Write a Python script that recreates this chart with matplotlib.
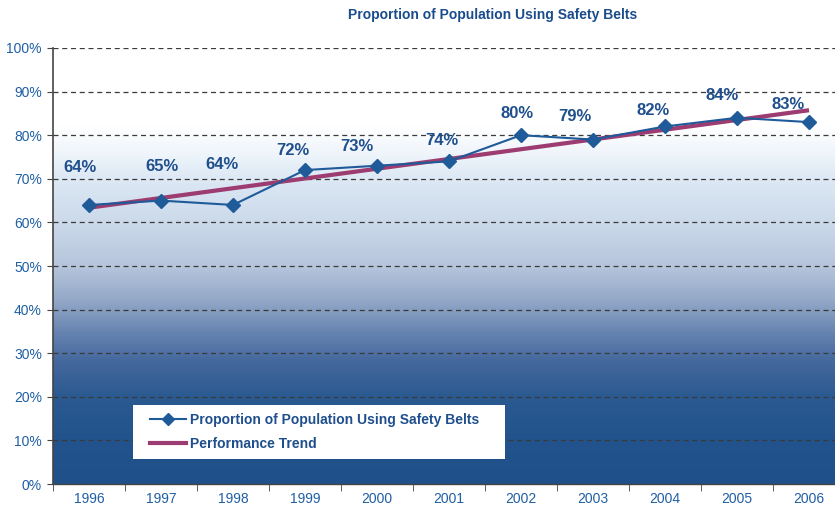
import numpy as np
import matplotlib
matplotlib.use("Agg")
import matplotlib.pyplot as plt
from matplotlib.colors import LinearSegmentedColormap
from matplotlib.lines import Line2D
from matplotlib.patches import Rectangle

plt.rcParams['font.family'] = ['Liberation Sans', 'DejaVu Sans']

# ---- data ----
years = ['1996', '1997', '1998', '1999', '2000', '2001', '2002', '2003', '2004', '2005', '2006']
usage = [64, 65, 64, 72, 73, 74, 80, 79, 82, 84, 83]
y_ticks = [0, 10, 20, 30, 40, 50, 60, 70, 80, 90, 100]
title = 'Proportion of Population Using Safety Belts'
series_name = 'Proportion of Population Using Safety Belts'
trend_name = 'Performance Trend'

# label placement offsets (pixels) - styling only
label_dx = [-9, 1, -11, -12, -20, -7, -4, -18, -12, -15, -21]
label_dy = [37, 34, 40, 20, 19, 21, 22, 23, 16, 22, 18]

W, H = 835, 514
fig = plt.figure(figsize=(W / 100, H / 100), dpi=100)
fig.patch.set_facecolor('white')
left, right, top, bottom = 53, 845, 48, 484
ax = fig.add_axes([left / W, 1 - bottom / H, (right - left) / W, (bottom - top) / H])

x = np.arange(len(years))
ax.set_xlim(-0.5, len(years) - 0.5)
ax.set_ylim(0, 100)

# gradient background
stops = [(0.00, '#1f5089'), (0.10, '#23538c'), (0.20, '#2b5a91'), (0.28, '#44689d'),
         (0.35, '#6885b1'), (0.42, '#93a8c8'), (0.50, '#b6c5dc'), (0.60, '#cbd9ea'),
         (0.70, '#dce8f4'), (0.75, '#ecf3fa'), (0.82, '#ffffff'), (1.00, '#ffffff')]
cmap = LinearSegmentedColormap.from_list('bg', stops)
grad = np.linspace(0, 1, 400).reshape(-1, 1)
ax.imshow(grad, cmap=cmap, origin='lower', aspect='auto',
          extent=[-0.5, len(years) - 0.5, 0, 100], zorder=0)

# grid
for yv in y_ticks[1:]:
    ax.axhline(yv, color='#3a3a3a', lw=0.9, ls=(0, (4, 3)), zorder=1)

# trend line
coef = np.polyfit(x, usage, 1)
trend = np.polyval(coef, x)
ax.plot(x, trend, color='#9c3c70', lw=3, zorder=3, solid_capstyle='butt')

# series
ax.plot(x, usage, color='#1f5a99', lw=1.5, marker='D', ms=7,
        mfc='#1f5a99', mec='#1f5a99', zorder=4)

for xi, v, dx, dy in zip(x, usage, label_dx, label_dy):
    ax.annotate(f'{v}%', (xi, v), xytext=(dx, dy), textcoords='offset pixels',
                ha='center', va='center', fontsize=12, fontweight='bold',
                color='#1f4f8c', zorder=5)

# axes styling
ax.set_yticks(y_ticks)
ax.set_yticklabels([f'{t}%' for t in y_ticks])
ax.set_xticks(x)
ax.set_xticklabels(years)
ax.set_xticks(np.arange(-0.5, len(years) + 0.5, 1), minor=True)
ax.tick_params(axis='x', which='major', length=0, pad=6, labelsize=10, labelcolor='#1f5fa3')
ax.tick_params(axis='x', which='minor', length=5, color='#444444', direction='out')
ax.tick_params(axis='y', which='major', length=4, color='#444444', pad=4, labelsize=10,
               labelcolor='#1f5fa3')
for s in ['top', 'right']:
    ax.spines[s].set_visible(False)
ax.spines['left'].set_color('#444444')
ax.spines['bottom'].set_color('#444444')
ax.spines['left'].set_linewidth(1.2)
ax.spines['bottom'].set_linewidth(1.0)

# legend box
aw, ah = right - left, bottom - top
box = Rectangle(((133 - left) / aw, (bottom - 459) / ah), (505 - 133) / aw, (459 - 405) / ah,
                transform=ax.transAxes, facecolor='white', edgecolor='none', zorder=6)
ax.add_patch(box)
handles = [Line2D([], [], color='#1f5a99', lw=1.5, marker='D', ms=6),
           Line2D([], [], color='#9c3c70', lw=3)]
leg = ax.legend(handles, [series_name, trend_name], loc='center left',
                bbox_to_anchor=((150 - left) / aw, (bottom - 432) / ah),
                frameon=False, borderaxespad=0, borderpad=0,
                handlelength=2.6, handletextpad=0.25, labelspacing=0.75,
                prop={'size': 10, 'weight': 'bold'})
for t in leg.get_texts():
    t.set_color('#1f4f8c')
leg.set_zorder(7)

fig.text(493 / W, 1 - 15 / H, title, ha='center', va='center', fontsize=10,
         fontweight='bold', color='#1a4c8c')

fig.savefig('out.png', dpi=100)
